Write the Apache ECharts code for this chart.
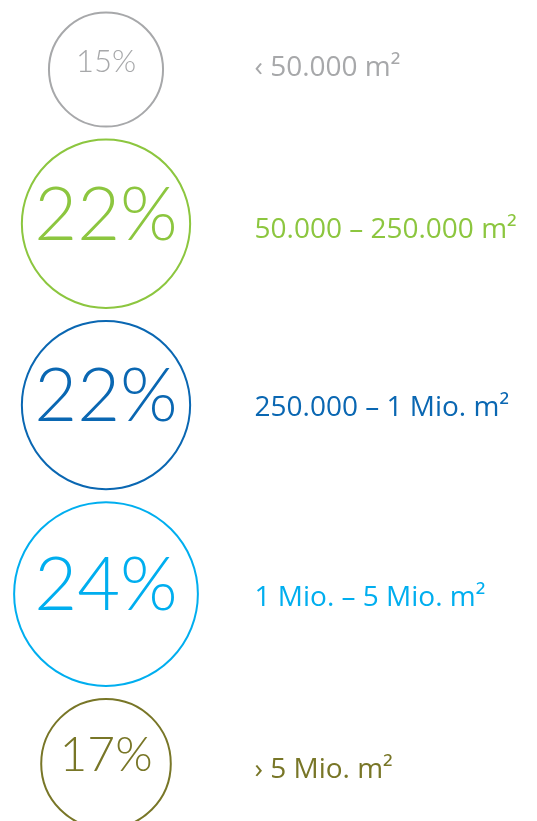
<!DOCTYPE html>
<html>
<head>
<meta charset="utf-8">
<script src="https://cdn.jsdelivr.net/npm/echarts@6/dist/echarts.min.js"></script>
<style>html,body{margin:0;padding:0;background:#fff;}#c{width:537px;height:821px;}</style>
</head>
<body>
<div id="c"></div>
<script>
// Data
const categories = ['‹ 50.000 m²', '50.000 – 250.000 m²', '250.000 – 1 Mio. m²', '1 Mio. – 5 Mio. m²', '› 5 Mio. m²'];
const shares = [15, 22, 22, 24, 17];

// Styles
const colors = ['#a7a8aa', '#8cc63f', '#0a67b2', '#00aeef', '#787627'];
const pctFontSizes = [31, 74, 74, 74, 48];
const labelOffsetsY = [-1, 6.5, 3.5, 4, 6.5];

const R_PER_UNIT = 3.87;   // circle radius (px) per percentage point
const GAP = 11;            // vertical gap between circles
const TOP = 11.5;
const CX = 106;
const LABEL_X = 255;

// stack circles vertically, each sized by its share
const centers = [];
let cursor = TOP;
shares.forEach(v => {
  const r = v * R_PER_UNIT;
  centers.push(cursor + r);
  cursor += 2 * r + GAP;
});

const circleData = shares.map((v, i) => ({
  value: [CX, centers[i], v],
  symbolSize: 2 * v * R_PER_UNIT - 2,
  itemStyle: { color: '#fff', borderColor: colors[i], borderWidth: 2, opacity: 1 },
  label: {
    show: true, position: 'inside', formatter: v + '%',
    color: colors[i], fontSize: pctFontSizes[i], fontFamily: 'Lato', fontWeight: 300,
    offset: [0, -8]
  }
}));

const labelData = categories.map((c, i) => ({
  value: [LABEL_X, centers[i]],
  label: {
    show: true, position: [0, 0], align: 'left', verticalAlign: 'middle',
    formatter: c, color: colors[i], fontSize: 28, fontFamily: 'Open Sans',
    offset: [0, labelOffsetsY[i]]
  }
}));

const chart = echarts.init(document.getElementById('c'), null, { renderer: 'canvas' });
chart.setOption({
  animation: false,
  grid: { left: 0, right: 0, top: 0, bottom: 0 },
  xAxis: { type: 'value', min: 0, max: 537, show: false },
  yAxis: { type: 'value', min: 0, max: 821, inverse: true, show: false },
  series: [
    { type: 'scatter', symbol: 'circle', data: circleData, z: 2 },
    { type: 'scatter', symbolSize: 1, data: labelData,
      itemStyle: { color: 'rgba(0,0,0,0)', opacity: 1 }, z: 3 }
  ]
});
</script>
</body>
</html>
